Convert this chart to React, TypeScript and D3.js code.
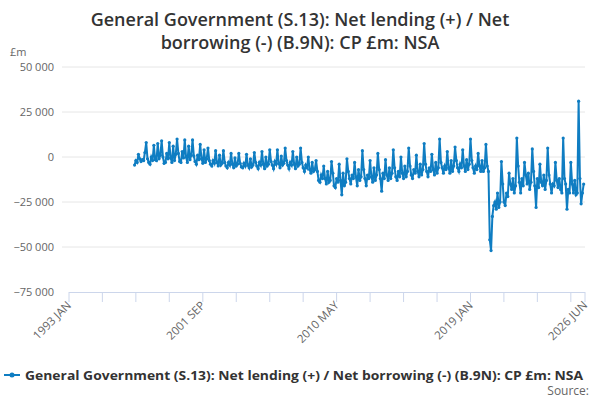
import { useEffect, useRef } from "react";
import * as d3 from "d3";

// monthly values, £m, first value = 1997 APR
const startYear = 1997;
const startMonth = 3; // zero-based (April)
const values: number[] = [
  // 1997 Apr-Dec
  -4500, -2000, -3000, 1500, -1000, -2500, -1500, -2000, 2500,
  // 1998
  8000, -1000, -3000, -4000, 0, -2000, 6500, -1500, -2000, 7500, -1000, 1000,
  // 1999
  9000, 0, -3500, -3000, 2000, -1000, 8000, -500, -3000, 6000, -2000, 1500,
  // 2000
  10000, 2000, -2500, -3000, 3000, -500, 9500, 0, -3000, 6000, -1500, 1000,
  // 2001
  9500, 500, -2500, -4000, 1000, -1500, 7000, -1000, -3500, 4000, -3000, -1000,
  // 2002
  5000, -2000, -4000, -5000, -2000, -3500, 3500, -3000, -5000, 1000, -4500, -3500,
  // 2003
  3500, -3000, -5000, -6000, -3000, -4500, 2000, -4000, -6000, -500, -5000, -4000,
  // 2004
  2000, -3500, -5500, -6000, -3500, -5000, 1500, -4500, -6000, -1000, -5500, -4500,
  // 2005
  2500, -3000, -5000, -6500, -3000, -4500, 3000, -4000, -6500, 0, -5000, -4000,
  // 2006
  4000, -2500, -4500, -6500, -2500, -4000, 4000, -3500, -6000, 500, -4500, -3500,
  // 2007
  5000, -2000, -4500, -6500, -3000, -4500, 3000, -4000, -6500, 0, -5000, -4000,
  // 2008
  5000, -3000, -6000, -8000, -4500, -6000, 0, -7000, -9000, -3000, -8000, -7000,
  // 2009
  -2000, -8000, -13000, -14000, -10000, -12000, -5000, -12000, -15000, -8000, -14000, -13000,
  // 2010
  -2500, -9000, -16000, -17000, -12000, -14000, -4000, -13000, -21000, -9000, -16000, -14000,
  // 2011
  -1000, -8000, -12000, -15000, -10000, -12000, -3000, -11000, -16000, -7000, -13000, -11000,
  // 2012
  3500, -7000, -12000, -16000, -10000, -12000, -2000, -11000, -14000, -6000, -13000, -10000,
  // 2013
  2000, -7000, -12000, -19000, -9000, -12000, -1500, -10000, -13000, -6000, -12000, -9000,
  // 2014
  4000, -6000, -11000, -13000, -8000, -11000, 0, -9000, -12000, -5000, -11000, -8000,
  // 2015
  5000, -5000, -10000, -12000, -7000, -9000, 1000, -8000, -11000, -4000, -10000, -7000,
  // 2016
  7500, -4000, -8000, -11000, -6000, -8000, 1500, -7000, -10000, -3000, -9000, -6000,
  // 2017
  10000, -3000, -6000, -9000, -5000, -7000, 3000, -6000, -9000, -2000, -8000, -5000,
  // 2018
  5500, -2000, -6000, -8000, -4000, -6000, 4000, -5000, -8000, -1500, -7000, -4000,
  // 2019
  10000, -2000, -6000, -9000, -5000, -7000, 2000, -5000, -8000, -2000, -8000, -6000,
  // 2020
  7000, -5000, -8000, -46000, -52000, -33000, -27000, -25000, -29000, -20000, -28000, -25000,
  // 2021
  -2500, -15000, -25000, -27000, -20000, -22000, -9000, -15000, -18000, -12000, -20000, -16000,
  // 2022
  10500, -5000, -14000, -20000, -12000, -16000, -3000, -10000, -15000, -9000, -18000, -14000,
  // 2023
  4500, -8000, -16000, -28000, -12000, -17000, -4000, -14000, -16000, -10000, -18000, -13000,
  // 2024
  5000, -10000, -15000, -20000, -15000, -16000, -3000, -13000, -17000, -12000, -18000, -20000,
  // 2025
  10500, -12000, -15000, -29000, -18000, -20000, -3000, -15000, -20000, -13000, -21000, -20000,
  // 2026
  31000, -12000, -26000, -20000, -15000,
];

const yTicks = [50000, 25000, 0, -25000, -50000, -75000];
const xTickLabels = ["1993 JAN", "2001 SEP", "2010 MAY", "2019 JAN", "2026 JUN"];
const titleLines = ["General Government (S.13): Net lending (+) / Net", "borrowing (-) (B.9N): CP £m: NSA"];
const seriesName = "General Government (S.13): Net lending (+) / Net borrowing (-) (B.9N): CP £m: NSA";
const color = "#0f7dc2";

export default function App() {
  const ref = useRef<SVGSVGElement>(null);

  useEffect(() => {
    if (!ref.current) return;
    const svg = d3.select(ref.current);
    svg.selectAll("*").remove();
    const font = "'Open Sans', 'DejaVu Sans', sans-serif";

    const x = d3.scaleTime()
      .domain([new Date(1993, 0, 1), new Date(2026, 5, 1)])
      .range([69, 585]);
    const y = d3.scaleLinear().domain([-75000, 50000]).range([292, 67]);

    const data = values.map((v, i) => ({ date: new Date(startYear, startMonth + i, 1), value: v }));

    svg.append("g").attr("font-family", font).attr("text-anchor", "middle")
      .attr("font-size", 18).attr("font-weight", 600).attr("fill", "#333")
      .selectAll("text")
      .data(titleLines)
      .join("text")
      .attr("x", 300).attr("y", (_, i) => 26 + i * 23).text(d => d);

    svg.append("text").attr("x", 10).attr("y", 56).attr("font-family", font)
      .attr("font-size", 11).attr("fill", "#666").text("£m");

    const yg = svg.append("g");
    yTicks.forEach(t => {
      if (t !== -75000) {
        yg.append("line").attr("x1", 62).attr("x2", 585).attr("y1", y(t)).attr("y2", y(t))
          .attr("stroke", "#e6e6e6");
      }
      yg.append("text").attr("x", 54).attr("y", y(t) + 4).attr("text-anchor", "end")
        .attr("font-family", font).attr("font-size", 11).attr("fill", "#666")
        .text(d3.format(",")(t).replace(/,/g, " "));
    });

    // x axis: ticks every 26 months
    const ax = svg.append("g");
    ax.append("line").attr("x1", 69).attr("x2", 585).attr("y1", 292.5).attr("y2", 292.5)
      .attr("stroke", "#ccd6eb");
    const end = new Date(2026, 5, 1);
    const tickDates = d3.range(0, 16).map(i => new Date(1993, i * 26, 1)).filter(d => d < end);
    tickDates.push(end);
    tickDates.forEach(d => {
      ax.append("line").attr("x1", x(d)).attr("x2", x(d)).attr("y1", 292).attr("y2", 302)
        .attr("stroke", "#ccd6eb");
    });
    const labelDates = [new Date(1993, 0, 1), new Date(2001, 8, 1), new Date(2010, 4, 1), new Date(2019, 0, 1), end];
    labelDates.forEach((d, i) => {
      ax.append("text").attr("transform", `translate(${x(d) + 3},${306}) rotate(-45)`)
        .attr("text-anchor", "end").attr("font-family", font).attr("font-size", 11.5)
        .attr("fill", "#666").text(xTickLabels[i]);
    });

    const line = d3.line<{ date: Date; value: number }>().x(d => x(d.date)).y(d => y(d.value));
    svg.append("path").datum(data).attr("d", line).attr("fill", "none")
      .attr("stroke", color).attr("stroke-width", 2);
    svg.append("g").selectAll("circle").data(data).join("circle")
      .attr("cx", d => x(d.date)).attr("cy", d => y(d.value)).attr("r", 1.6).attr("fill", color);

    const lg = svg.append("g");
    lg.append("line").attr("x1", 4).attr("x2", 20).attr("y1", 375).attr("y2", 375)
      .attr("stroke", color).attr("stroke-width", 2);
    lg.append("circle").attr("cx", 12).attr("cy", 375).attr("r", 2.5).attr("fill", color);
    lg.append("text").attr("x", 25).attr("y", 380).attr("font-family", font)
      .attr("font-size", 13).attr("font-weight", "bold").attr("fill", "#333")
      .attr("textLength", 558).attr("lengthAdjust", "spacingAndGlyphs").text(seriesName);

    svg.append("text").attr("x", 589).attr("y", 395).attr("text-anchor", "end")
      .attr("font-family", font).attr("font-size", 12).attr("fill", "#666").text("Source:");
  }, []);

  return <svg ref={ref} width={600} height={400} style={{ position: "absolute", left: 0, top: 0 }} />;
}
